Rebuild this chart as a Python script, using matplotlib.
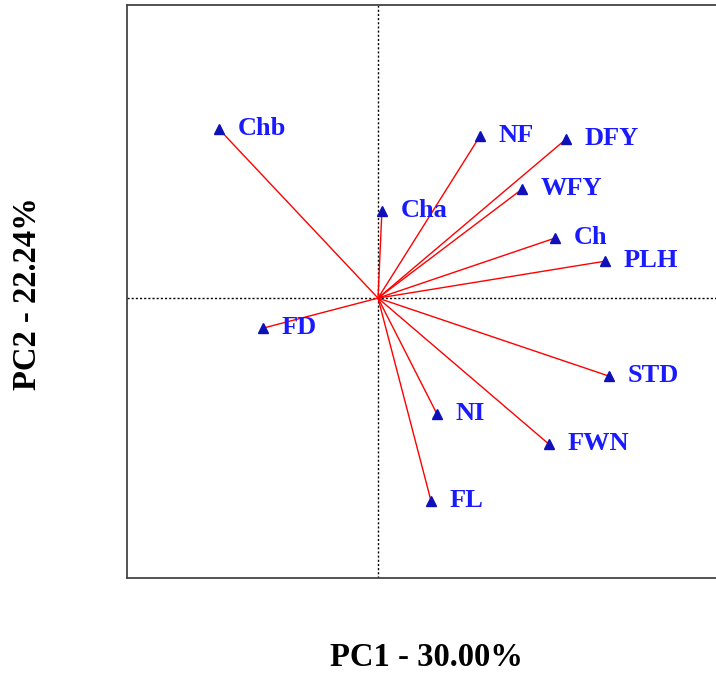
import matplotlib
matplotlib.use("Agg")
import matplotlib.pyplot as plt

labels = ["Chb", "NF", "DFY", "WFY", "Cha", "Ch", "PLH", "FD", "STD", "NI", "FWN", "FL"]
pc1 = [-0.530, 0.340, 0.627, 0.480, 0.013, 0.590, 0.757, -0.383, 0.770, 0.197, 0.570, 0.177]
pc2 = [0.563, 0.540, 0.530, 0.363, 0.290, 0.200, 0.123, -0.100, -0.260, -0.387, -0.487, -0.677]
xlabel = "PC1 - 30.00%"
ylabel = "PC2 - 22.24%"

fig = plt.figure(figsize=(7.16, 6.73), dpi=100)
W, H = 716, 673
ax = fig.add_axes([127 / W, 1 - 578 / H, (719 - 127) / W, (578 - 5) / H])
ax.set_xlim(-0.837, 1.137)
ax.set_ylim(-0.933, 0.977)

ax.axvline(0, color="black", linestyle=(0, (1.5, 1.5)), linewidth=1.0, zorder=1)
ax.axhline(0, color="black", linestyle=(0, (1.5, 1.5)), linewidth=1.0, zorder=1)

for lab, x, y in zip(labels, pc1, pc2):
    ax.plot([0, x], [0, y], color="red", linewidth=1.0, zorder=2)
ax.plot(pc1, pc2, linestyle="none", marker="^", markersize=6.5,
        color="#1010b8", zorder=3)
for lab, x, y in zip(labels, pc1, pc2):
    ax.annotate(lab, (x, y), xytext=(13.5, 0.5), textcoords="offset points",
                ha="left", va="center", color="#1a1aff",
                fontsize=19, fontweight="bold", family="Liberation Serif")

ax.set_xticks([])
ax.set_yticks([])
for s in ax.spines.values():
    s.set_color("#444444")
    s.set_linewidth(1.3)

fig.text(426 / W, 1 - 657 / H, xlabel, ha="center", va="center",
         fontsize=23.5, fontweight="bold", family="Liberation Serif")
fig.text(28 / W, 1 - 294 / H, ylabel, ha="center", va="center", rotation=90,
         fontsize=23.5, fontweight="bold", family="Liberation Serif")

fig.savefig("out.png", dpi=100)
